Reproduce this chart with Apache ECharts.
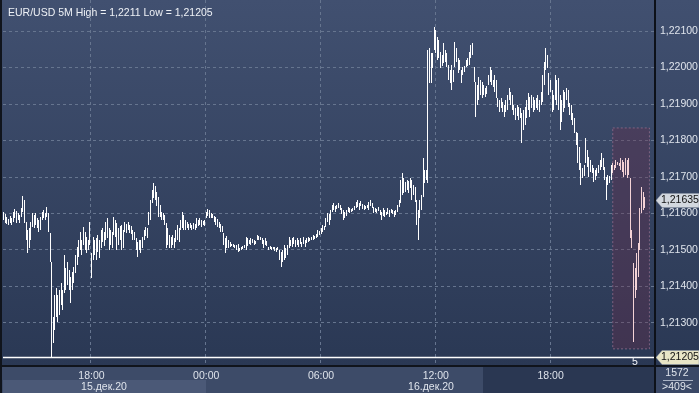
<!DOCTYPE html>
<html><head><meta charset="utf-8">
<script src="https://cdn.jsdelivr.net/npm/echarts@6/dist/echarts.min.js"></script>
<style>html,body{margin:0;padding:0;background:#2e3c58;}#c{width:699px;height:393px;}</style>
</head><body><div id="c"></div>
<script>
// ---- data ----
const firstBarTime = '13:25';          // 15.12.20, 5-minute bars
const slotCount = 409;                 // visible bar slots
const tickLabels = ['18:00', '00:00', '06:00', '12:00'];
const dimTickIndex = 343;              // 18:00 on 16 Dec (future zone)
const dateLabels = ['15.дек.20', '16.дек.20'];
const yTicks = [1.213, 1.214, 1.215, 1.216, 1.217, 1.218, 1.219, 1.220, 1.221];
const yMin = 1.21181, yMax = 1.22185;
const lowValue = 1.21205, lastValue = 1.21635;
const highlightStart = 382, highlightEnd = 405;
const highlightTop = 1.21834, highlightBottom = 1.21228;

const highs = [
1.21604,1.21598,1.21590,1.21584,1.21593,1.21587,1.21604,1.21612,1.21606,1.21601,
1.21595,1.21615,1.21647,1.21636,1.21576,1.21554,1.21560,1.21576,1.21601,1.21595,
1.21601,1.21587,1.21582,1.21590,1.21604,1.21609,1.21601,1.21617,1.21601,1.21546,
1.21466,1.21316,1.21376,1.21395,1.21376,1.21390,1.21409,1.21390,1.21486,1.21450,
1.21466,1.21444,1.21425,1.21439,1.21453,1.21486,1.21508,1.21527,1.21549,1.21527,
1.21562,1.21549,1.21535,1.21527,1.21576,1.21491,1.21535,1.21527,1.21532,1.21540,
1.21527,1.21554,1.21560,1.21549,1.21576,1.21587,1.21560,1.21554,1.21549,1.21590,
1.21582,1.21573,1.21560,1.21565,1.21568,1.21554,1.21576,1.21571,1.21576,1.21568,
1.21565,1.21554,1.21549,1.21532,1.21521,1.21527,1.21527,1.21535,1.21554,1.21562,
1.21560,1.21604,1.21636,1.21664,1.21683,1.21675,1.21658,1.21645,1.21623,1.21604,
1.21601,1.21595,1.21573,1.21560,1.21540,1.21535,1.21540,1.21532,1.21554,1.21568,
1.21560,1.21582,1.21604,1.21595,1.21582,1.21576,1.21571,1.21573,1.21568,1.21573,
1.21571,1.21587,1.21582,1.21587,1.21582,1.21579,1.21582,1.21604,1.21612,1.21609,
1.21601,1.21598,1.21593,1.21590,1.21584,1.21576,1.21571,1.21565,1.21546,1.21532,
1.21538,1.21527,1.21521,1.21516,1.21516,1.21513,1.21513,1.21516,1.21505,1.21508,
1.21510,1.21513,1.21535,1.21532,1.21527,1.21532,1.21529,1.21527,1.21524,1.21540,
1.21538,1.21535,1.21532,1.21527,1.21532,1.21524,1.21508,1.21510,1.21508,1.21508,
1.21508,1.21505,1.21508,1.21499,1.21494,1.21499,1.21513,1.21505,1.21513,1.21535,
1.21527,1.21532,1.21535,1.21527,1.21532,1.21527,1.21532,1.21521,1.21535,1.21527,
1.21532,1.21535,1.21532,1.21535,1.21540,1.21538,1.21543,1.21554,1.21551,1.21560,
1.21568,1.21565,1.21587,1.21601,1.21598,1.21609,1.21623,1.21628,1.21620,1.21623,
1.21628,1.21623,1.21615,1.21609,1.21604,1.21609,1.21617,1.21615,1.21612,1.21615,
1.21620,1.21631,1.21636,1.21628,1.21634,1.21625,1.21623,1.21620,1.21623,1.21631,
1.21636,1.21628,1.21617,1.21615,1.21612,1.21617,1.21609,1.21604,1.21615,1.21609,
1.21604,1.21615,1.21609,1.21612,1.21609,1.21606,1.21609,1.21623,1.21636,1.21691,
1.21710,1.21697,1.21686,1.21691,1.21689,1.21697,1.21691,1.21678,1.21672,1.21636,
1.21609,1.21636,1.21650,1.21752,1.21719,1.21719,1.22048,1.22053,1.22040,1.22040,
1.22110,1.22103,1.22084,1.22075,1.22042,1.22034,1.22067,1.22048,1.22040,1.22007,
1.21993,1.22007,1.21993,1.22070,1.22053,1.22026,1.22020,1.21993,1.22001,1.22004,
1.22020,1.22026,1.22042,1.22062,1.22067,1.22001,1.21960,1.21952,1.21974,1.21966,
1.21960,1.21952,1.21944,1.21949,1.21979,1.22001,1.21993,1.21966,1.21979,1.21966,
1.21916,1.21911,1.21916,1.21905,1.21897,1.21911,1.21924,1.21944,1.21933,1.21924,
1.21897,1.21889,1.21897,1.21892,1.21889,1.21875,1.21883,1.21892,1.21911,1.21930,
1.21919,1.21924,1.21919,1.21911,1.21916,1.21924,1.21911,1.21933,1.21979,1.22015,
1.22053,1.22034,1.21985,1.21966,1.21938,1.21924,1.21979,1.21966,1.21971,1.21924,
1.21911,1.21938,1.21933,1.21944,1.21938,1.21903,1.21897,1.21875,1.21861,1.21823,
1.21820,1.21782,1.21738,1.21724,1.21732,1.21807,1.21774,1.21754,1.21746,1.21732,
1.21724,1.21719,1.21724,1.21732,1.21746,1.21765,1.21752,1.21727,1.21700,1.21705,
1.21702,1.21732,1.21738,1.21732,1.21746,1.21741,1.21738,1.21752,1.21746,1.21741,
1.21752,1.21746,1.21752,1.21697,1.21554,1.21464,1.21450,1.21491,1.21519,1.21615,
1.21672,1.21658,1.21645
];
const lows = [
1.21582,1.21573,1.21571,1.21568,1.21573,1.21568,1.21576,1.21587,1.21573,1.21582,
1.21573,1.21590,1.21604,1.21573,1.21527,1.21491,1.21505,1.21527,1.21562,1.21560,
1.21568,1.21560,1.21549,1.21554,1.21582,1.21587,1.21582,1.21590,1.21549,1.21466,
1.21205,1.21244,1.21280,1.21316,1.21302,1.21321,1.21348,1.21335,1.21381,1.21390,
1.21403,1.21390,1.21354,1.21390,1.21409,1.21436,1.21458,1.21480,1.21499,1.21486,
1.21513,1.21499,1.21491,1.21499,1.21513,1.21422,1.21472,1.21486,1.21472,1.21494,
1.21477,1.21505,1.21521,1.21510,1.21527,1.21532,1.21499,1.21513,1.21505,1.21540,
1.21535,1.21499,1.21513,1.21527,1.21499,1.21505,1.21549,1.21546,1.21554,1.21546,
1.21543,1.21527,1.21527,1.21499,1.21480,1.21499,1.21491,1.21505,1.21527,1.21538,
1.21532,1.21568,1.21582,1.21628,1.21642,1.21636,1.21620,1.21590,1.21590,1.21582,
1.21582,1.21568,1.21505,1.21513,1.21505,1.21505,1.21513,1.21505,1.21521,1.21527,
1.21521,1.21554,1.21560,1.21554,1.21554,1.21560,1.21554,1.21560,1.21554,1.21557,
1.21554,1.21560,1.21565,1.21568,1.21562,1.21568,1.21565,1.21587,1.21593,1.21587,
1.21587,1.21587,1.21576,1.21568,1.21562,1.21560,1.21549,1.21549,1.21513,1.21491,
1.21505,1.21505,1.21508,1.21510,1.21508,1.21505,1.21499,1.21494,1.21497,1.21499,
1.21502,1.21505,1.21499,1.21510,1.21516,1.21513,1.21519,1.21513,1.21516,1.21527,
1.21527,1.21527,1.21516,1.21505,1.21513,1.21510,1.21499,1.21502,1.21499,1.21502,
1.21497,1.21494,1.21499,1.21472,1.21453,1.21466,1.21472,1.21477,1.21486,1.21505,
1.21510,1.21508,1.21516,1.21508,1.21513,1.21508,1.21516,1.21508,1.21516,1.21508,
1.21519,1.21521,1.21524,1.21527,1.21527,1.21529,1.21532,1.21535,1.21540,1.21543,
1.21549,1.21554,1.21562,1.21576,1.21568,1.21582,1.21604,1.21609,1.21604,1.21612,
1.21615,1.21609,1.21598,1.21582,1.21587,1.21593,1.21604,1.21601,1.21604,1.21606,
1.21609,1.21615,1.21617,1.21609,1.21620,1.21612,1.21609,1.21612,1.21615,1.21609,
1.21620,1.21615,1.21601,1.21604,1.21601,1.21606,1.21595,1.21582,1.21593,1.21590,
1.21595,1.21598,1.21590,1.21601,1.21598,1.21590,1.21595,1.21604,1.21617,1.21628,
1.21650,1.21656,1.21658,1.21664,1.21656,1.21669,1.21636,1.21650,1.21631,1.21568,
1.21527,1.21587,1.21609,1.21645,1.21683,1.21691,1.21683,1.21957,1.21957,1.21999,
1.22048,1.22040,1.22020,1.22026,1.21999,1.22004,1.22012,1.22015,1.22001,1.21966,
1.21957,1.21938,1.21960,1.22001,1.22015,1.21985,1.21993,1.21957,1.21979,1.21988,
1.22001,1.22004,1.22007,1.22026,1.22034,1.21960,1.21864,1.21897,1.21911,1.21924,
1.21916,1.21924,1.21919,1.21927,1.21952,1.21960,1.21952,1.21946,1.21933,1.21916,
1.21892,1.21878,1.21889,1.21878,1.21864,1.21878,1.21883,1.21911,1.21897,1.21883,
1.21870,1.21856,1.21867,1.21856,1.21861,1.21793,1.21828,1.21842,1.21861,1.21883,
1.21864,1.21889,1.21878,1.21883,1.21889,1.21883,1.21878,1.21897,1.21905,1.21952,
1.21993,1.21999,1.21924,1.21933,1.21878,1.21883,1.21911,1.21897,1.21883,1.21828,
1.21850,1.21878,1.21889,1.21911,1.21892,1.21870,1.21856,1.21842,1.21820,1.21787,
1.21738,1.21719,1.21678,1.21697,1.21702,1.21738,1.21727,1.21700,1.21713,1.21710,
1.21686,1.21691,1.21702,1.21710,1.21719,1.21727,1.21719,1.21691,1.21636,1.21678,
1.21683,1.21691,1.21710,1.21719,1.21724,1.21732,1.21730,1.21719,1.21713,1.21700,
1.21705,1.21697,1.21705,1.21532,1.21505,1.21247,1.21368,1.21390,1.21425,1.21499,
1.21601,1.21609,1.21615
];

// ---- build ----
const FONT = '"Liberation Sans Narrow", "Arial Narrow", "Liberation Sans", sans-serif';
const FS = 10.5;
const categories = [];
{
  let [h, m] = firstBarTime.split(':').map(Number);
  let t = h * 60 + m;
  for (let i = 0; i < slotCount; i++) {
    const mm = (t + i * 5) % 1440;
    categories.push(String(Math.floor(mm / 60)).padStart(2, '0') + ':' + String(mm % 60).padStart(2, '0'));
  }
}
const isTick = (idx) => tickLabels.includes(categories[idx]);
const barData = highs.map((h, i) => [i, h, lows[i]]);
const levelData = [[0, lowValue, 1], [0, lastValue, 0]];   // [x, price, drawLine]
const fmt = (v) => v.toFixed(5).replace('.', ',');
const txt = (x, y, text, fill) => ({ type: 'text', z: 20,
  style: { x, y, text, fill, font: FS + 'px ' + FONT, textAlign: 'center', textVerticalAlign: 'middle' } });

const chart = echarts.init(document.getElementById('c'), null, { renderer: 'canvas' });
chart.setOption({
  animation: false,
  textStyle: { fontFamily: FONT },
  title: {
    text: 'EUR/USD 5M High = 1,2211 Low = 1,21205',
    left: 3, top: 3,
    textStyle: { fontSize: FS, fontWeight: 'normal', color: '#eef1f6', fontFamily: FONT }
  },
  graphic: [
    { type: 'rect', z: -5, shape: { x: 0, y: 0, width: 699, height: 366 },
      style: { fill: new echarts.graphic.LinearGradient(0, 0, 0, 1, [
        { offset: 0, color: '#415070' }, { offset: 1, color: '#2a3854' }]) } },
    { type: 'rect', z: -5, shape: { x: 0, y: 366, width: 699, height: 27 }, style: { fill: '#3d4b68' } },
    { type: 'rect', z: -4, shape: { x: 3, y: 380, width: 203, height: 13 }, style: { fill: '#4b5977' } },
    { type: 'rect', z: -4, shape: { x: 483, y: 367, width: 172, height: 26 }, style: { fill: '#2a3752' } },
    { type: 'rect', z: -4, shape: { x: 656, y: 367, width: 43, height: 26 }, style: { fill: '#3a4866' } },
    { type: 'rect', z: 20, shape: { x: 0, y: 365, width: 699, height: 2 }, style: { fill: '#10141c' } },
    { type: 'rect', z: 20, shape: { x: 0, y: 0, width: 2, height: 393 }, style: { fill: '#10141c' } },
    { type: 'rect', z: 20, shape: { x: 654, y: 0, width: 2, height: 393 }, style: { fill: '#0d1119' } },
    { type: 'rect', z: 20, shape: { x: 663, y: 380, width: 30, height: 1 }, style: { fill: '#aab3c4' } },
    txt(677, 373, '1572', '#dfe4ec'),
    txt(677, 387, '>409<', '#dfe4ec'),
    txt(104, 387, dateLabels[0], '#dfe4ec'),
    txt(431, 387, dateLabels[1], '#dfe4ec'),
    txt(635, 362.5, '5', '#f2f4f8')
  ],
  grid: { left: 3, right: 44, top: 0, bottom: 27, containLabel: false, outerBoundsMode: 'none' },
  xAxis: {
    type: 'category', data: categories, boundaryGap: true,
    axisLine: { show: false }, axisTick: { show: false },
    axisLabel: {
      interval: (idx) => isTick(idx), margin: 5, fontSize: FS, fontFamily: FONT,
      color: (v, idx) => (idx === dimTickIndex ? '#6d7990' : '#dde2ea')
    },
    splitLine: { show: true, interval: (idx) => isTick(idx),
      lineStyle: { color: '#66758f', type: [3, 3], width: 1 } }
  },
  yAxis: {
    type: 'value', position: 'right', min: yMin, max: yMax, scale: true,
    axisLine: { show: false },
    axisTick: { show: false, customValues: yTicks },
    axisLabel: { customValues: yTicks, formatter: fmt, margin: 5, fontSize: FS, fontFamily: FONT, color: '#dfe4ec' },
    splitLine: { show: true, lineStyle: { color: '#66758f', type: [3, 3], width: 1 } }
  },
  series: [{
    type: 'custom',
    data: barData,
    encode: { x: 0, y: [1, 2] },
    renderItem: (params, api) => {
      const i = api.value(0);
      const top = api.coord([i, api.value(1)]);
      const bot = api.coord([i, api.value(2)]);
      const y1 = Math.round(top[1]);
      let h = Math.round(bot[1]) - y1;
      if (h < 1) h = 1;
      return { type: 'rect', shape: { x: Math.floor(top[0]), y: y1, width: 1, height: h },
        style: { fill: params.dataIndex >= highlightStart ? '#f4d2d6' : '#ffffff' } };
    },
    markArea: {
      silent: true,
      label: { show: false },
      itemStyle: { color: 'rgba(105,45,72,0.34)', borderColor: 'rgba(140,105,135,0.85)', borderWidth: 1, borderType: [2, 2] },
      data: [[{ xAxis: highlightStart, yAxis: highlightTop }, { xAxis: highlightEnd, yAxis: highlightBottom }]]
    }
  }, {
    type: 'custom',
    data: levelData,
    encode: { x: 0, y: 1 },
    clip: false, silent: true, z: 10,
    renderItem: (params, api) => {
      const cs = params.coordSys;
      const y = Math.round(api.coord([0, api.value(1)])[1]) + 0.5;
      const isLow = api.value(2) === 1;
      const x0 = cs.x + cs.width + 1;
      const children = [];
      if (isLow) {
        children.push({ type: 'line', shape: { x1: cs.x, y1: y, x2: cs.x + cs.width, y2: y },
          style: { stroke: '#ffffff', lineWidth: 1.5 } });
      }
      children.push({ type: 'polygon',
        shape: { points: [[x0, y], [x0 + 6, y - 7], [x0 + 43, y - 7], [x0 + 43, y + 7], [x0 + 6, y + 7]] },
        style: { fill: isLow ? '#e8e5c6' : '#d3d8df', stroke: '#8d96a6', lineWidth: 0.5 } });
      children.push({ type: 'text',
        style: { x: x0 + 5, y: y, text: fmt(api.value(1)), fill: '#111', font: FS + 'px ' + FONT,
          textAlign: 'left', textVerticalAlign: 'middle' } });
      return { type: 'group', children };
    }
  }]
});
</script>
</body></html>
